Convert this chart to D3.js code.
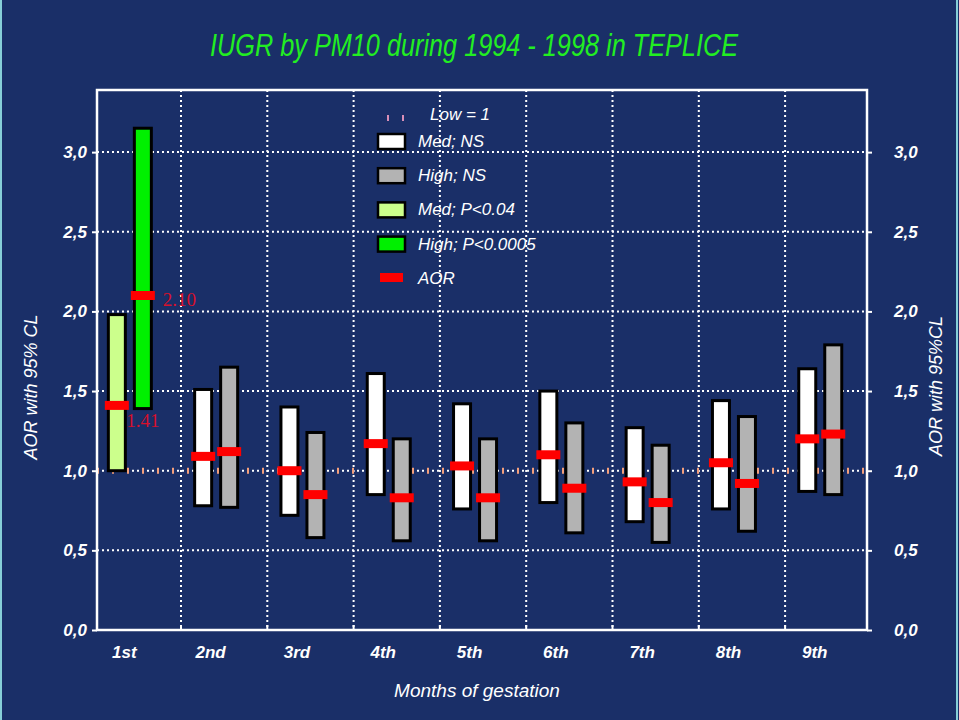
<!DOCTYPE html>
<html lang="en">
<head>
  <meta charset="UTF-8">
  <title>IUGR by PM10</title>
  <script src="https://d3js.org/d3.v7.min.js"></script>
  <style>
    body, html { margin: 0; padding: 0; background: #1a2f68; }
  </style>
</head>
<body>
  <svg width="959" height="720" font-family="'Liberation Sans', Arial, sans-serif"></svg>
  <script>
    // months of gestation
    let months = ["1st", "2nd", "3rd", "4th", "5th", "6th", "7th", "8th", "9th"];
    // medium exposure: AOR, lower and upper 95% CL
    let medAOR = [1.41, 1.09, 1.00, 1.17, 1.03, 1.10, 0.93, 1.05, 1.20];
    let medLow = [1.00, 0.78, 0.72, 0.85, 0.76, 0.80, 0.68, 0.76, 0.87];
    let medHigh = [1.98, 1.51, 1.40, 1.61, 1.42, 1.50, 1.27, 1.44, 1.64];
    // high exposure
    let highAOR = [2.10, 1.12, 0.85, 0.83, 0.83, 0.89, 0.80, 0.92, 1.23];
    let highLow = [1.39, 0.77, 0.58, 0.56, 0.56, 0.61, 0.55, 0.62, 0.85];
    let highHigh = [3.15, 1.65, 1.24, 1.20, 1.20, 1.30, 1.16, 1.34, 1.79];
    // significant months
    let medSig = [true, false, false, false, false, false, false, false, false];
    let highSig = [true, false, false, false, false, false, false, false, false];
    let yTicks = [0, 0.5, 1.0, 1.5, 2.0, 2.5, 3.0];
    let legendItems = ["Med; NS", "High; NS", "Med; P<0.04", "High; P<0.0005"];
    let legendColors = ["#ffffff", "#b3b3b3", "#ccff8c", "#00f000"];

    let svg = d3.select("svg"),
      margin = {top: 90, right: 92, bottom: 90, left: 97},
      width = 959 - margin.left - margin.right,
      height = 720 - margin.top - margin.bottom;

    svg.append("rect").attr("width", 959).attr("height", 720).attr("fill", "#1a2f68");
    svg.append("rect").attr("x", 1).attr("y", -2).attr("width", 956).attr("height", 724)
      .attr("fill", "none").attr("stroke", "#86cfd8").attr("stroke-width", 2);

    let g = svg.append("g").attr("transform", `translate(${margin.left},${margin.top})`);

    let yScale = d3.scaleLinear().domain([0, 3.39]).range([height, 0]);
    let xScale = d3.scaleBand().domain(months).range([-2.3, 774.4]);
    let bw = xScale.bandwidth();
    let pairX = d => xScale(d) + bw / 2 - 8;
    let gridX = months.slice(1).map(d => xScale(d));

    // grid
    g.selectAll(".hgrid").data(yTicks.filter(d => d > 0)).enter().append("line")
      .attr("x1", 0).attr("x2", width)
      .attr("y1", d => yScale(d)).attr("y2", d => yScale(d))
      .attr("stroke", "#ffffff").attr("stroke-width", 2).attr("stroke-dasharray", "2,3");
    g.selectAll(".vgrid").data(gridX).enter().append("line")
      .attr("x1", d => d).attr("x2", d => d)
      .attr("y1", 0).attr("y2", height)
      .attr("stroke", "#ffffff").attr("stroke-width", 2).attr("stroke-dasharray", "2,3");

    // reference line low = 1
    g.append("line").attr("x1", 0).attr("x2", width)
      .attr("y1", yScale(1)).attr("y2", yScale(1))
      .attr("stroke", "#f4a07c").attr("stroke-width", 6).attr("stroke-dasharray", "2,13");

    // frame
    g.append("rect").attr("width", width).attr("height", height)
      .attr("fill", "none").attr("stroke", "#ffffff").attr("stroke-width", 2.5);

    // axes
    let fmt = d => d3.format(".1f")(d).replace(".", ",");
    let yAxisL = d3.axisLeft(yScale).tickValues(yTicks).tickSize(5).tickPadding(5).tickFormat(fmt);
    let yAxisR = d3.axisRight(yScale).tickValues(yTicks).tickSize(5).tickPadding(22).tickFormat(fmt);
    [g.append("g").call(yAxisL), g.append("g").attr("transform", `translate(${width},0)`).call(yAxisR)]
      .forEach(a => {
        a.select(".domain").remove();
        a.selectAll("line").attr("stroke", "#ffffff").attr("stroke-width", 2);
        a.selectAll("text").attr("fill", "#ffffff").attr("font-size", 17)
          .attr("font-weight", "bold").attr("font-style", "italic")
          .attr("font-family", "'Liberation Sans', Arial, sans-serif");
      });

    // x ticks above axis and labels
    g.selectAll(".xtick").data(gridX).enter().append("line")
      .attr("x1", d => d).attr("x2", d => d)
      .attr("y1", height - 5).attr("y2", height)
      .attr("stroke", "#ffffff").attr("stroke-width", 2);
    g.selectAll(".xlab").data(months).enter().append("text")
      .attr("x", d => xScale(d) + bw / 2 - 13.5)
      .attr("y", height + 28)
      .attr("text-anchor", "middle").attr("fill", "#ffffff")
      .attr("font-size", 17).attr("font-weight", "bold").attr("font-style", "italic")
      .text(d => d);

    // bars
    let barW = 17, off = 13;
    function drawSeries(lo, hi, aor, sig, dx, nsColor, sigColor) {
      let grp = g.append("g");
      grp.selectAll("rect.ci").data(months).enter().append("rect")
        .attr("x", d => pairX(d) + dx - barW / 2)
        .attr("y", (d, i) => yScale(hi[i]))
        .attr("width", barW)
        .attr("height", (d, i) => yScale(lo[i]) - yScale(hi[i]))
        .attr("fill", (d, i) => sig[i] ? sigColor : nsColor)
        .attr("stroke", "#000000").attr("stroke-width", 3);
      grp.selectAll("rect.aor").data(months).enter().append("rect")
        .attr("x", d => pairX(d) + dx - 12)
        .attr("y", (d, i) => yScale(aor[i]) - 4.5)
        .attr("width", 24).attr("height", 9)
        .attr("fill", "#ff0000");
    }
    drawSeries(medLow, medHigh, medAOR, medSig, -off, legendColors[0], legendColors[2]);
    drawSeries(highLow, highHigh, highAOR, highSig, off, legendColors[1], legendColors[3]);

    // value labels for the significant month
    let gx = pairX(months[0]) + off;
    g.append("text").attr("x", gx + 20).attr("y", yScale(highAOR[0]) + 11)
      .attr("fill", "#d8102c")
      .attr("font-family", "'Liberation Serif', 'Times New Roman', serif").attr("font-size", 19)
      .text(d3.format(".2f")(highAOR[0]));
    g.append("text").attr("x", gx).attr("y", yScale(medAOR[0]) + 22)
      .attr("text-anchor", "middle").attr("fill", "#d8102c")
      .attr("font-family", "'Liberation Serif', 'Times New Roman', serif").attr("font-size", 19)
      .text(d3.format(".2f")(medAOR[0]));

    // legend
    let lg = svg.append("g").attr("transform", "translate(377,114)");
    lg.selectAll(".lowmark").data([0, 1]).enter().append("line")
      .attr("x1", d => 11 + d * 15).attr("x2", d => 11 + d * 15)
      .attr("y1", 1).attr("y2", 7)
      .attr("stroke", "#d88fb8").attr("stroke-width", 2);
    lg.append("text").attr("x", 53).attr("y", 6).attr("fill", "#ffffff")
      .attr("font-size", 17).attr("font-style", "italic").text("Low = 1");
    lg.selectAll(".sw").data(legendItems).enter().append("rect")
      .attr("x", 1).attr("y", (d, i) => 20 + i * 34.2)
      .attr("width", 27).attr("height", 15)
      .attr("fill", (d, i) => legendColors[i])
      .attr("stroke", "#000000").attr("stroke-width", 2.5);
    lg.selectAll(".lt").data(legendItems.concat(["AOR"])).enter().append("text")
      .attr("x", 41).attr("y", (d, i) => 33 + i * 34.2)
      .attr("fill", "#ffffff").attr("font-size", 17).attr("font-style", "italic")
      .text(d => d);
    lg.append("rect").attr("x", 3).attr("y", 159).attr("width", 23).attr("height", 9)
      .attr("fill", "#ff0000");

    // titles
    svg.append("text").attr("x", 474).attr("y", 56).attr("text-anchor", "middle")
      .attr("fill", "#22ee22").attr("font-size", 32).attr("font-style", "italic")
      .attr("textLength", 528).attr("lengthAdjust", "spacingAndGlyphs")
      .text("IUGR by PM10 during 1994 - 1998 in TEPLICE");
    svg.append("text").attr("transform", "translate(37,387) rotate(-90)")
      .attr("text-anchor", "middle").attr("fill", "#ffffff")
      .attr("font-size", 18).attr("font-style", "italic").text("AOR with 95% CL");
    svg.append("text").attr("transform", "translate(942,386) rotate(-90)")
      .attr("text-anchor", "middle").attr("fill", "#ffffff")
      .attr("font-size", 18).attr("font-style", "italic").text("AOR with 95%CL");
    svg.append("text").attr("x", 477).attr("y", 697).attr("text-anchor", "middle")
      .attr("fill", "#ffffff").attr("font-size", 19).attr("font-style", "italic")
      .text("Months of gestation");
  </script>
</body>
</html>
